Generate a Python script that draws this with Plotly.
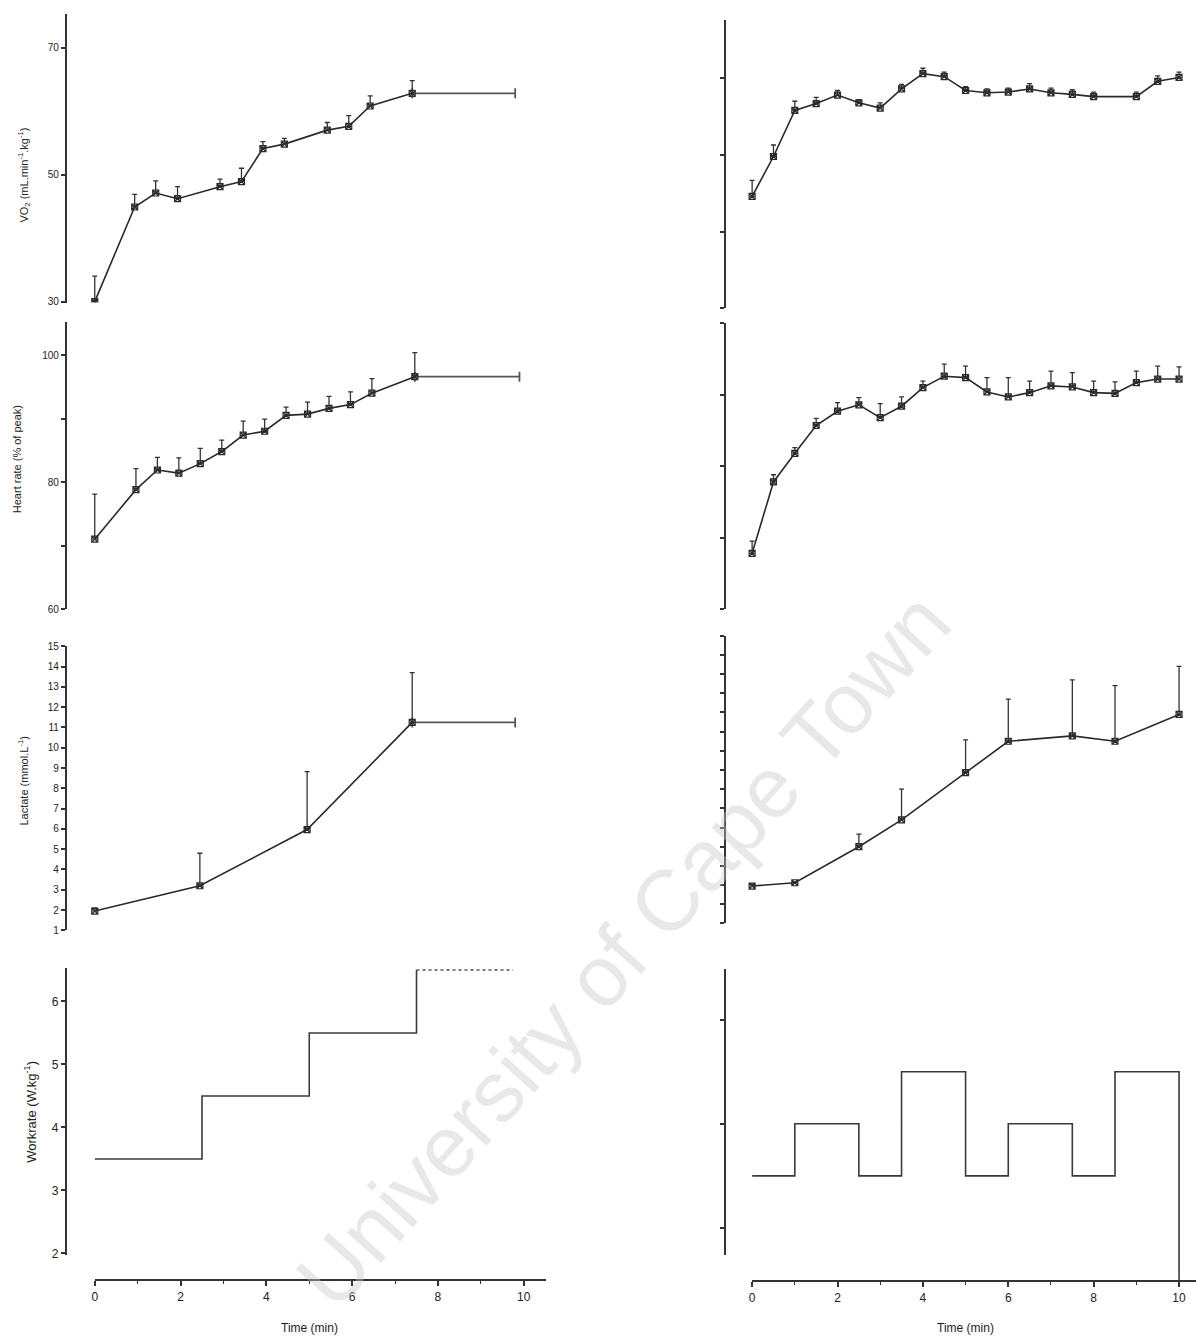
import plotly.graph_objects as go

W, H = 1196, 1344

# ---------------- data ----------------
# Left column: incremental protocol
left_vo2_t = [0, 0.93, 1.42, 1.93, 2.92, 3.42, 3.92, 4.42, 5.42, 5.92, 6.42, 7.4]
left_vo2 = [30.0, 44.9, 47.1, 46.2, 48.1, 48.9, 54.1, 54.8, 57.0, 57.6, 60.8, 62.8]
left_vo2_sd = [4.0, 2.0, 1.9, 1.9, 1.2, 2.1, 1.1, 0.9, 1.2, 1.7, 1.6, 2.0]
left_vo2_end = 9.8

left_hr_t = [0, 0.96, 1.46, 1.96, 2.46, 2.96, 3.46, 3.96, 4.46, 4.96, 5.46, 5.96, 6.46, 7.46]
left_hr = [71.0, 78.8, 81.9, 81.4, 82.9, 84.8, 87.4, 88.0, 90.5, 90.7, 91.6, 92.2, 94.0, 96.6]
left_hr_sd = [7.1, 3.3, 2.0, 2.4, 2.4, 1.8, 2.2, 1.9, 1.3, 1.9, 1.9, 2.0, 2.3, 3.8]
left_hr_end = 9.9

left_la_t = [0, 2.45, 4.95, 7.4]
left_la = [1.95, 3.2, 5.97, 11.25]
left_la_sd = [0.15, 1.6, 2.85, 2.45]
left_la_end = 9.8

left_wr_t = [0, 2.5, 5, 7.5]
left_wr = [3.5, 4.5, 5.5, 6.5]
left_wr_last_t = [7.5, 9.75]
left_wr_last = [6.5, 6.5]

# Right column: variable protocol
right_vo2_t = [0, 0.5, 1, 1.5, 2, 2.5, 3, 3.5, 4, 4.5, 5, 5.5, 6, 6.5, 7, 7.5, 8, 9, 9.5, 10]
right_vo2 = [54.6, 59.8, 65.8, 66.7, 67.8, 66.8, 66.1, 68.6, 70.6, 70.2, 68.4, 68.1, 68.2, 68.6,
             68.1, 67.9, 67.6, 67.6, 69.6, 70.1]
right_vo2_sd = [2.1, 1.5, 1.2, 0.8, 0.6, 0.4, 0.7, 0.6, 0.7, 0.6, 0.5, 0.5, 0.5, 0.7,
                0.6, 0.6, 0.6, 0.6, 0.7, 0.7]

right_hr_t = [0, 0.5, 1, 1.5, 2, 2.5, 3, 3.5, 4, 4.5, 5, 5.5, 6, 6.5, 7, 7.5, 8, 8.5, 9, 9.5, 10]
right_hr = [67.8, 77.8, 81.8, 85.7, 87.7, 88.6, 86.8, 88.4, 91.0, 92.6, 92.4, 90.4, 89.7, 90.3,
            91.25, 91.1, 90.3, 90.2, 91.7, 92.2, 92.2]
right_hr_sd = [1.7, 1.0, 0.8, 1.0, 1.2, 1.0, 1.95, 1.3, 0.9, 1.7, 1.6, 2.0, 2.7, 1.6,
               2.05, 2.0, 1.6, 1.6, 1.6, 1.8, 1.7]

right_la_t = [0, 1, 2.5, 3.5, 5, 6, 7.5, 8.5, 10]
right_la = [1.95, 2.12, 4.0, 5.4, 7.86, 9.5, 9.78, 9.5, 10.9]
right_la_sd = [0.1, 0.05, 0.66, 1.6, 1.71, 2.2, 2.92, 2.9, 2.5]

right_wr_t = [0, 1, 2.5, 3.5, 5, 6, 7.5, 8.5, 10]
right_wr = [3.5, 4.0, 3.5, 4.5, 3.5, 4.0, 3.5, 4.5, 0]

x_ticks = [0, 2, 4, 6, 8, 10]

# ---------------- helpers ----------------
def fx(px):
    return px / W


def fy(py):
    return 1 - py / H


def ydom(top, bottom):
    return [fy(bottom), fy(top)]


LINE = "#2a2a2a"
AX = "#333333"
FONT = "Arial, Liberation Sans, sans-serif"

fig = go.Figure()


def series(t, v, sd, xa, ya):
    n = len(v)
    fig.add_trace(go.Scatter(
        x=t, y=v, mode="lines+markers", xaxis=xa, yaxis=ya, showlegend=False,
        line=dict(color=LINE, width=1.6),
        marker=dict(symbol="square-x-open", size=6, color=LINE, line=dict(width=1.2, color=LINE)),
        error_y=dict(type="data", array=sd, arrayminus=[0] * n, symmetric=False,
                     color=AX, thickness=1.3, width=2.5),
    ))


def tte_bar(t_last, v_last, t_end, xa, ya):
    fig.add_trace(go.Scatter(
        x=[t_last], y=[v_last], mode="markers", xaxis=xa, yaxis=ya, showlegend=False,
        marker=dict(size=2, color="rgba(0,0,0,0)"),
        error_x=dict(type="data", array=[t_end - t_last], arrayminus=[0], symmetric=False,
                     color="#555555", thickness=1.8, width=5),
    ))


# left column
tte_bar(left_vo2_t[-1], left_vo2[-1], left_vo2_end, "x", "y")
series(left_vo2_t, left_vo2, left_vo2_sd, "x", "y")
tte_bar(left_hr_t[-1], left_hr[-1], left_hr_end, "x2", "y2")
series(left_hr_t, left_hr, left_hr_sd, "x2", "y2")
tte_bar(left_la_t[-1], left_la[-1], left_la_end, "x3", "y3")
series(left_la_t, left_la, left_la_sd, "x3", "y3")
fig.add_trace(go.Scatter(x=left_wr_t, y=left_wr, mode="lines", line_shape="hv",
                         xaxis="x4", yaxis="y4", showlegend=False,
                         line=dict(color="#3a3a3a", width=1.6)))
fig.add_trace(go.Scatter(x=left_wr_last_t, y=left_wr_last, mode="lines",
                         xaxis="x4", yaxis="y4", showlegend=False,
                         line=dict(color="#555555", width=1.6, dash="dot")))

# right column
series(right_vo2_t, right_vo2, right_vo2_sd, "x5", "y5")
series(right_hr_t, right_hr, right_hr_sd, "x6", "y6")
series(right_la_t, right_la, right_la_sd, "x7", "y7")
fig.add_trace(go.Scatter(x=right_wr_t, y=right_wr, mode="lines", line_shape="hv",
                         xaxis="x8", yaxis="y8", showlegend=False,
                         line=dict(color="#3a3a3a", width=1.6)))
# anchor trace so the short axis-line axis is drawn
fig.add_trace(go.Scatter(x=[None], y=[None], mode="markers", xaxis="x8", yaxis="y9",
                         showlegend=False, hoverinfo="skip"))

# ---------------- axes ----------------
def yaxis(dom, rng, pos, tickvals=None, ticktext=None, labels=True, size=10):
    d = dict(domain=dom, range=rng, anchor="free", position=pos, showline=True,
             linewidth=2, linecolor=AX, ticks="outside", ticklen=4, tickwidth=1.5,
             tickcolor=AX, showgrid=False, zeroline=False, showticklabels=labels,
             tickfont=dict(family=FONT, size=size, color="#222"))
    if tickvals is not None:
        d["tickmode"] = "array"
        d["tickvals"] = tickvals
        if ticktext is not None:
            d["ticktext"] = ticktext
    return d


def hidden_x(dom, rng, anchor):
    return dict(domain=dom, range=rng, visible=False, anchor=anchor)


def shown_x(dom, rng, pos):
    return dict(domain=dom, range=rng, anchor="free", position=pos, showline=True,
                linewidth=2, linecolor=AX, ticks="outside", ticklen=5, tickwidth=1.5,
                tickcolor=AX, showgrid=False, zeroline=False,
                tickmode="array", tickvals=x_ticks,
                minor=dict(ticks="outside", dtick=1, ticklen=3, tickwidth=1.2, tickcolor=AX),
                tickfont=dict(family=FONT, size=12, color="#222"))


L_dom = [fx(63), fx(544)]
L_rng = [-0.674, 10.51]
L4_dom = [fx(92), fx(544)]
L4_rng = [0, 10.51]
R_dom = [fx(724), fx(1196)]
R_rng = [-0.631, 10.397]
R4_dom = [fx(751), fx(1196)]
R4_rng = [0, 10.397]

lay = dict(
    width=W, height=H, margin=dict(l=0, r=0, t=0, b=0),
    paper_bgcolor="white", plot_bgcolor="rgba(0,0,0,0)", showlegend=False,
    xaxis=hidden_x(L_dom, L_rng, "y"),
    xaxis2=hidden_x(L_dom, L_rng, "y2"),
    xaxis3=hidden_x(L_dom, L_rng, "y3"),
    xaxis4=shown_x(L4_dom, L4_rng, fy(1286)),
    xaxis5=hidden_x(R_dom, R_rng, "y5"),
    xaxis6=hidden_x(R_dom, R_rng, "y6"),
    xaxis7=hidden_x(R_dom, R_rng, "y7"),
    xaxis8=shown_x(R4_dom, R4_rng, fy(1287)),
    yaxis=yaxis(ydom(9, 300), [29.85, 75.3], fx(63), [30, 50, 70]),
    yaxis2=yaxis(ydom(320, 609), [60, 105.15], fx(63), [60, 70, 80, 90, 100],
                 ["60", "", "80", "", "100"]),
    yaxis3=yaxis(ydom(646, 933), [1, 15.03], fx(63), list(range(1, 16))),
    yaxis4=yaxis(ydom(971, 1260), [1.98, 6.53], fx(63), [2, 3, 4, 5, 6], size=12),
    yaxis5=yaxis(ydom(15, 306), [40, 77.6], fx(724), [40, 50, 60, 70], labels=False),
    yaxis6=yaxis(ydom(321, 609), [60, 100], fx(724), [60, 70, 80, 90, 100], labels=False),
    yaxis7=yaxis(ydom(636, 926), [0, 15], fx(724), list(range(0, 16)), labels=False),
    yaxis8=dict(domain=ydom(972, 1287), range=[2.486, 5.486], visible=False, anchor="x8"),
    yaxis9=yaxis(ydom(972, 1260), [2.743, 5.486], fx(724), [3, 4, 5], labels=False),
)
fig.update_layout(**lay)

# ---------------- text ----------------
def ytitle(text, xpx, ypx, size):
    fig.add_annotation(text=text, x=fx(xpx), y=fy(ypx), xref="paper", yref="paper",
                       textangle=-90, showarrow=False, xanchor="center", yanchor="middle",
                       font=dict(family=FONT, size=size, color="#222"))


ytitle("VO<sub>2</sub> (mL.min<sup>-1</sup>.kg<sup>-1</sup>)", 21, 171, 11)
ytitle("Heart rate (% of peak)", 14, 458, 11)
ytitle("Lactate (mmol.L<sup>-1</sup>)", 20, 782, 11)
ytitle("Workrate (W.kg<sup>-1</sup>)", 27, 1116, 13)

for xc in (307, 965):
    fig.add_annotation(text="Time (min)", x=fx(xc), y=fy(1334), xref="paper", yref="paper",
                       showarrow=False, xanchor="center", yanchor="middle",
                       font=dict(family=FONT, size=12, color="#222"))

# watermark
fig.add_annotation(text="University of Cape Town", x=fx(622), y=fy(952), xref="paper",
                   yref="paper", showarrow=False, textangle=-48, xanchor="center",
                   yanchor="middle",
                   font=dict(family=FONT, size=86, color="rgba(200,200,200,0.42)"))

fig.write_html("out.html")
